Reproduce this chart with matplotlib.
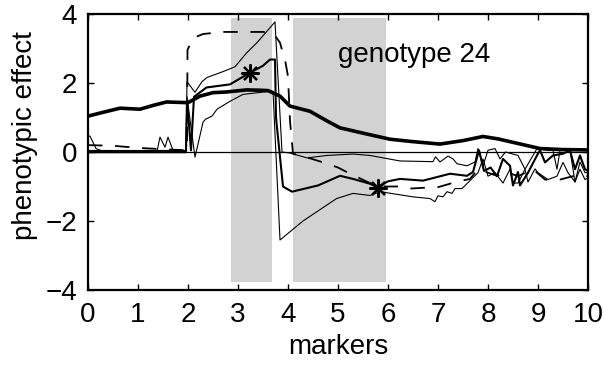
import matplotlib
matplotlib.use("Agg")
import matplotlib.pyplot as plt

plt.rcParams['font.family'] = ['Liberation Sans', 'DejaVu Sans']
plt.rcParams['font.size'] = 20

# smooth overall estimate (heavy line)
thick_x = [0, 0.3, 0.64, 1.04, 1.3, 1.57, 2.0, 2.24, 2.5, 2.77, 3.17, 3.44, 3.6,
           3.84, 4.04, 4.44, 4.78, 5.04, 5.58, 6.04, 6.5, 7.04, 7.5, 7.9, 8.2,
           8.5, 9.04, 9.5, 10]
thick_y = [1.04, 1.15, 1.27, 1.24, 1.35, 1.45, 1.43, 1.62, 1.72, 1.74, 1.8, 1.79,
           1.78, 1.62, 1.33, 1.18, 0.9, 0.7, 0.52, 0.37, 0.3, 0.23, 0.33, 0.45,
           0.38, 0.28, 0.1, 0.07, 0.06]

# marker-wise estimate (medium line)
mid_x = [0, 1.96, 1.98, 2.06, 2.12, 2.37, 2.84, 3.24, 3.5, 3.64, 3.74, 3.76, 3.9,
         4.08, 4.6, 5.04, 5.3, 5.64, 5.78, 6.0, 6.24, 6.7, 7.24, 7.58, 7.7, 7.82,
         7.92, 8.05, 8.18, 8.3, 8.44, 8.5, 8.6, 8.64, 8.8, 8.98, 9.04, 9.14, 9.3,
         9.5, 9.64, 9.74, 9.84, 9.94, 10]
mid_y = [0.03, 0.03, 1.52, 0.05, 1.6, 1.87, 1.96, 2.3, 2.5, 2.68, 2.68, 1.0, -1.0,
         -1.15, -0.97, -0.69, -0.78, -0.92, -1.02, -0.85, -0.78, -0.83, -0.63,
         -0.69, -0.58, 0.05, -0.55, -0.45, -0.7, -0.2, -0.4, -0.97, -0.58, -0.97,
         -0.6, -0.1, 0.05, -0.3, -0.1, -0.05, 0.05, -0.5, -0.1, -0.5, -0.55]

# upper bound (thin)
up_x = [0, 0.04, 0.16, 0.3, 1.0, 1.38, 1.44, 1.54, 1.6, 1.7, 1.96, 1.98, 2.14,
        2.28, 2.38, 2.7, 2.94, 3.17, 3.38, 3.74, 3.88, 4.04, 4.38, 4.78, 5.3,
        5.64, 6.24, 6.9, 6.95, 7.04, 7.2, 7.3, 7.38, 7.58, 7.74, 7.8, 7.9, 8.0,
        8.14, 8.24, 8.35, 8.6, 8.74, 8.98, 9.2, 9.3, 9.38, 9.44, 9.64, 9.74,
        9.84, 9.94, 10]
up_y = [0.46, 0.46, 0.1, 0.02, 0.02, 0.02, 0.43, 0.14, 0.43, 0.05, 0.02, 2.04,
        1.73, 2.04, 2.16, 2.33, 2.47, 2.87, 3.17, 3.77, 0.0, -0.03, -0.17, -0.1,
        -0.06, -0.1, -0.26, -0.28, -0.14, -0.29, -0.12, -0.2, -0.34, -0.4, -0.29,
        0.1, -0.4, 0.05, 0.1, -0.2, 0.0, -0.1, -0.5, 0.1, 0.05, 0.05, -0.5, 0.05,
        0.05, -0.87, -0.29, -0.6, -0.6]

# lower bound (thin)
low_x = [0, 1.96, 1.98, 2.14, 2.3, 2.35, 2.48, 2.58, 2.84, 3.1, 3.4, 3.64, 3.7,
         3.84, 4.3, 4.97, 5.3, 5.64, 5.84, 6.5, 6.84, 6.94, 7.0, 7.1, 7.18, 7.28,
         7.34, 7.48, 7.64, 7.8, 7.9, 8.0, 8.14, 8.3, 8.44, 8.5, 8.6, 8.74, 8.8,
         8.94, 9.0, 9.2, 9.38, 9.5, 9.6, 9.74, 9.84, 9.94, 10]
low_y = [-0.02, -0.02, 1.6, -0.15, 0.86, 0.95, 1.04, 1.24, 1.47, 1.67, 1.72, 1.76,
         1.76, -2.55, -2.0, -1.35, -1.2, -1.26, -1.15, -1.3, -1.35, -1.44, -1.27,
         -1.3, -1.15, -1.2, -1.06, -1.06, -0.83, -0.6, -0.2, -0.7, -0.6, -0.9,
         -0.5, -0.9, -0.9, -0.5, -0.87, -0.49, -0.6, -0.8, -0.7, -0.3, -0.6,
         -0.87, -0.5, -0.8, -0.75]

# simulated (true) effect, dashed
true_x = [0, 0.5, 1.0, 1.5, 1.98, 1.99, 2.1, 2.3, 2.7, 3.1, 3.5, 3.7, 3.84, 3.95,
          4.0, 4.04, 4.1, 4.3, 4.7, 5.0, 5.24, 5.58, 5.8, 6.24, 6.44, 6.8, 7.0,
          7.38, 7.64, 7.8, 7.9, 8.18, 8.4, 8.6, 8.9, 9.14, 9.44, 9.7, 10]
true_y = [0.2, 0.18, 0.12, 0.08, 0.05, 2.96, 3.3, 3.42, 3.48, 3.48, 3.48, 3.45,
          3.17, 2.6, 2.19, 0.9, -0.05, -0.12, -0.3, -0.45, -0.63, -0.86, -1.0,
          -1.0, -1.06, -1.03, -1.02, -0.86, -0.78, -0.5, -0.55, -0.69, -0.6, -0.7,
          -0.5, -0.8, -0.8, -0.7, -0.7]

# detected QTL positions
qtl_x = [3.24, 5.8]
qtl_y = [2.3, -1.05]

# marker intervals highlighted
band_lo = [2.85, 4.1]
band_hi = [3.67, 5.96]

fig = plt.figure(figsize=(6.04, 3.66), dpi=100, facecolor='white')
ax = fig.add_axes([88 / 604, 1 - 290 / 366, 500 / 604, 276 / 366])

for lo, hi in zip(band_lo, band_hi):
    ax.fill_between([lo, hi], -3.76, 3.88, color='#d2d2d2', lw=0, zorder=0)

ax.axhline(0, color='black', lw=0.9, zorder=1)
ax.plot(thick_x, thick_y, color='black', lw=2.6, zorder=3)
ax.plot(mid_x, mid_y, color='black', lw=1.5, zorder=3)
ax.plot(up_x, up_y, color='black', lw=0.8, zorder=3)
ax.plot(low_x, low_y, color='black', lw=0.8, zorder=3)
ax.plot(true_x, true_y, color='black', lw=1.3, linestyle=(0, (8, 7)), zorder=3)
ax.plot(qtl_x, qtl_y, linestyle='none', marker=(8, 2, 0), markersize=13,
        markeredgewidth=1.6, color='black', zorder=4)

ax.text(5.0, 2.6, 'genotype 24', fontsize=20)

ax.set_xlim(0, 10)
ax.set_ylim(-4, 4)
ax.set_xticks(range(0, 11))
ax.set_yticks([-4, -2, 0, 2, 4])
ax.set_yticklabels(['\u22124', '\u22122', '0', '2', '4'])
ax.tick_params(direction='in', top=True, right=True, length=4, width=1,
               labelsize=20)
ax.tick_params(axis='x', pad=9)
ax.tick_params(axis='y', pad=8)
for s in ax.spines.values():
    s.set_linewidth(1.6)

ax.set_xlabel('markers', fontsize=20, labelpad=4)
ax.set_ylabel('phenotypic effect', fontsize=20)
ax.yaxis.set_label_coords(-0.1, 0.56)

fig.savefig('out.png', dpi=100)
